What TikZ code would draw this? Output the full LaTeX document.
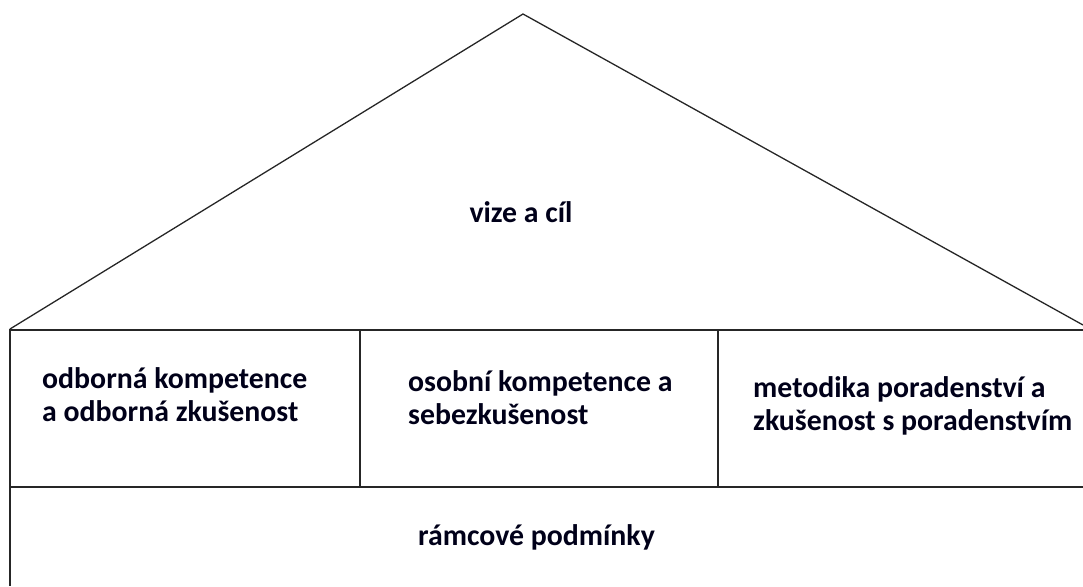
\documentclass[tikz,border=0pt]{standalone}
\usepackage{fontspec}
\setmainfont{Carlito}
\begin{document}
\begin{tikzpicture}[x=1pt,y=-1pt,
  frame/.style={line width=1.3pt,draw=black!85},
  lbl/.style={font=\fontsize{29.8}{32.5}\selectfont\bfseries,inner sep=0pt,align=left,text=black!90!blue}]
\useasboundingbox (0,0) rectangle (1083,586);
\coordinate (apex) at (523,14);
\coordinate (rl) at (10,329);
\coordinate (rr) at (1083,325);
\coordinate (tl) at (10,330);
\coordinate (tr) at (1083,330);
\coordinate (bl) at (10,586);
\coordinate (ml) at (10,487);
\coordinate (mr) at (1083,487);
\coordinate (d1t) at (360,330);
\coordinate (d1b) at (360,487);
\coordinate (d2t) at (718,330);
\coordinate (d2b) at (718,487);
\draw[frame] (rl) -- (apex) -- (rr);
\draw[frame] (tr) -- (tl) -- (bl);
\draw[frame] (ml) -- (mr);
\draw[frame] (d1t) -- (d1b);
\draw[frame] (d2t) -- (d2b);
\node[lbl,anchor=base] (vize) at (521,222) {vize a cíl};
\node[lbl,anchor=base west] (c1) at (42,421) {odborná kompetence\\a odborná zkušenost};
\node[lbl,anchor=base west] (c2) at (408,424) {osobní kompetence a\\sebezkušenost};
\node[lbl,anchor=base west] (c3) at (753,430) {metodika poradenství a\\zkušenost s poradenstvím};
\node[lbl,anchor=base west] (rp) at (418,545) {rámcové podmínky};
\end{tikzpicture}
\end{document}
